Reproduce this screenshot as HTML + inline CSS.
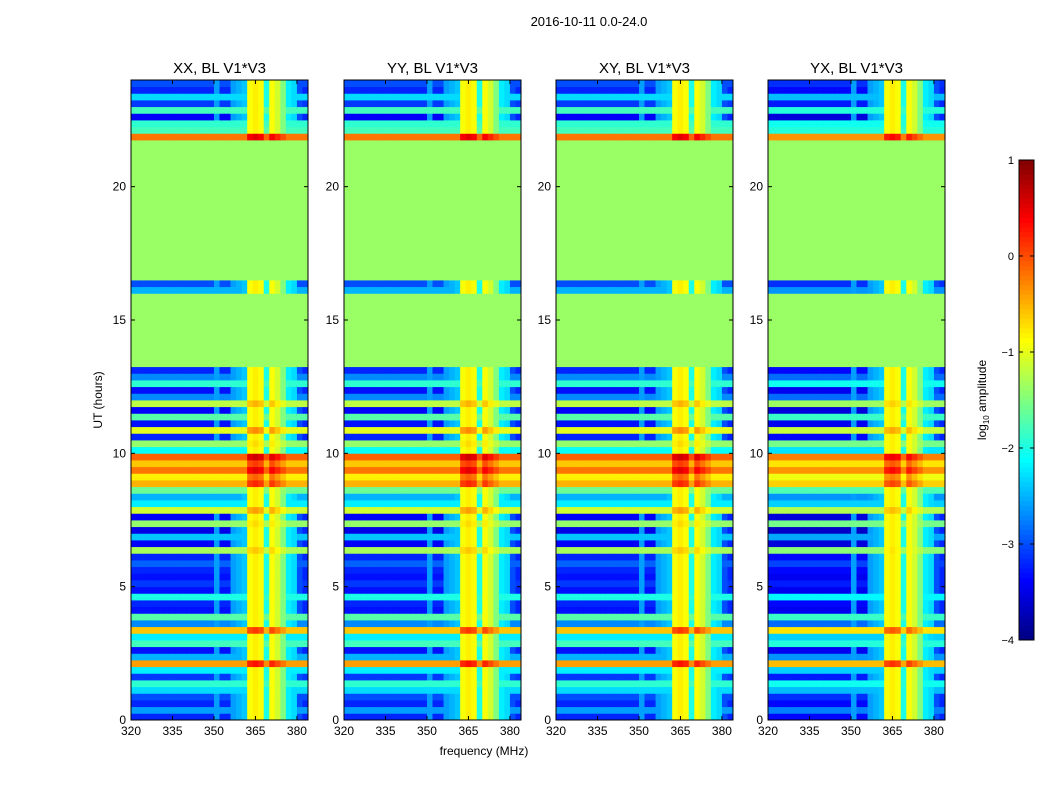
<!DOCTYPE html>
<html><head><meta charset="utf-8">
<style>
body{margin:0;background:#fff;font-family:"Liberation Sans",sans-serif;}
svg text{font-family:"Liberation Sans",sans-serif;}
</style></head>
<body>
<svg id="fig" width="1050" height="800" xmlns="http://www.w3.org/2000/svg">
<rect width="1050" height="800" fill="#fff"/>
<text x="589" y="26" font-size="13" text-anchor="middle">2016-10-11 0.0-24.0</text>
<text x="484" y="755" font-size="12" text-anchor="middle">frequency (MHz)</text>
<text x="102" y="400" font-size="12" text-anchor="middle" transform="rotate(-90 102 400)">UT (hours)</text>
<g id="panels"></g>
<g id="cbar"></g>
</svg>
<script>
// time rows: 0.25 h bins, 0..24 h (96 rows), log10 amplitude levels
const rowLevels=[-3.2,-2.6,-3.2,-3.0,-2.3,
-1.9,-3.1,-2.2,-0.4,-2.5,-3.3,-1.8,-2.2,-0.6,-2.7,-1.7,-3.3,-3.2,
-2.0,-3.3,-3.1,-3.3,-3.2,-2.9,-3.2,
-1.3,-3.4,-2.4,-3.5,-1.4,-3.4,-1.1,-2.2,-2.5,
-1.6,-0.5,-0.8,-0.2,-0.6,-0.1,-2.1,
-1.4,-3.2,-1.0,-3.3,-1.7,-3.4,-1.2,-2.7,-3.3,-1.9,-2.7,-3.2,
-1.37,-1.37,-1.37,-1.37,-1.37,-1.37,-1.37,-1.37,-1.37,-1.37,-1.37,
-2.5,-3.0,
-1.37,-1.37,-1.37,-1.37,-1.37,-1.37,-1.37,-1.37,-1.37,-1.37,-1.37,-1.37,-1.37,-1.37,-1.37,-1.37,-1.37,-1.37,-1.37,-1.37,-1.37,
-0.2,-1.8,-1.9,
-3.4,-1.8,-3.1,-2.3,-3.2,-3.0];
const flagged=[0,0,0,0,0, 0,0,0,0,0,0,0,0,0,0,0,0,0, 0,0,0,0,0,0,0, 0,0,0,0,0,0,0,0,0, 0,0,0,0,0,0,0, 0,0,0,0,0,0,0,0,0,0,0,0,
1,1,1,1,1,1,1,1,1,1,1, 0,0, 1,1,1,1,1,1,1,1,1,1,1,1,1,1,1,1,1,1,1,1,1, 0,0,0, 0,0,0,0,0,0];
// frequency bins: 2 MHz from 320 to 384 — RFI band floor and gain per channel
const colFloor=[-4,-4,-4,-4,-4,-4,-4,-4,-4,-4,-4,-4,-4,-4,-4,-2.6,-4,-4,-2.6,-2.5,-2.4,-0.9,-0.8,-0.9,-2.0,-0.9,-1.1,-1.5,-2.2,-2.3,-3.0,-3.2];
const bandGain=[0,0,0,0,0,0,0,0,0,0,0,0,0,0,0,0,0,0,0,0,0,0.6,0.7,0.6,0.1,0.6,0.4,0.2,0,0,0,0];
const panelTitles=["XX, BL V1*V3","YY, BL V1*V3","XY, BL V1*V3","YX, BL V1*V3"];
const panelOffset=[0,0,0,-0.15];
const xTicks=[320,335,350,365,380];
const yTicks=[0,5,10,15,20];
const cbTicks=[1,0,-1,-2,-3,-4];

const NS="http://www.w3.org/2000/svg";
const panelX=[131,344,556,768], PW=177, PT=80, PB=720;
function sx(p,f){return panelX[p]+(f-320)/(384-320)*PW;}
function sy(h){return PB-(h/24)*(PB-PT);}
function jet(v){
  let t=Math.max(0,Math.min(1,(v+4)/5));
  const c=x=>Math.round(255*Math.max(0,Math.min(1,x)));
  return `rgb(${c(1.5-Math.abs(4*t-3))},${c(1.5-Math.abs(4*t-2))},${c(1.5-Math.abs(4*t-1))})`;
}
function mk(tag,attrs,parent){const e=document.createElementNS(NS,tag);for(const k in attrs)e.setAttribute(k,attrs[k]);parent.appendChild(e);return e;}
const panels=document.getElementById('panels');
for(let p=0;p<4;p++){
  const g=mk('g',{},panels);
  
  
  for(let r=0;r<rowLevels.length;r++){
    const y0=sy((r+1)*0.25), y1=sy(r*0.25);
    for(let c=0;c<colFloor.length;c++){
      const v=flagged[r]?rowLevels[r]:Math.max(rowLevels[r]+panelOffset[p]+bandGain[c],colFloor[c]);
      const x0=sx(p,320+c*2), x1=sx(p,322+c*2);
      const e=mk('rect',{x:x0.toFixed(2),y:y0.toFixed(2),width:(x1-x0+0.4).toFixed(2),height:(y1-y0+0.4).toFixed(2),fill:jet(v)},g);
      
      
    }
  }
  const fr=mk('rect',{x:panelX[p],y:PT,width:PW,height:PB-PT,fill:'none',stroke:'#000','stroke-width':1},g);
  
  
  const t=mk('text',{x:panelX[p]+PW/2,y:73,'font-size':15,'text-anchor':'middle'},g);
  t.textContent=panelTitles[p];
  
  
  xTicks.forEach(f=>{
    const x=sx(p,f);
    mk('line',{x1:x,x2:x,y1:PB,y2:PB-4,stroke:'#000'},g);
    mk('line',{x1:x,x2:x,y1:PT,y2:PT+4,stroke:'#000'},g);
    const l=mk('text',{x:x,y:PB+15,'font-size':12,'text-anchor':'middle'},g);
    l.textContent=f;
    
    
  });
  yTicks.forEach(h=>{
    const y=sy(h);
    mk('line',{x1:panelX[p],x2:panelX[p]+4,y1:y,y2:y,stroke:'#000'},g);
    mk('line',{x1:panelX[p]+PW,x2:panelX[p]+PW-4,y1:y,y2:y,stroke:'#000'},g);
    const l=mk('text',{x:panelX[p]-5,y:y+4,'font-size':12,'text-anchor':'end'},g);
    l.textContent=h;
    
    
  });
}
const cb=document.getElementById('cbar');


const CX=1019,CW=15,CT=160,CB=640;
const cby=v=>CB-(v+4)/5*(CB-CT);
for(let i=0;i<100;i++){
  const v=-4+i*0.05;
  mk('rect',{x:CX,y:cby(v+0.05).toFixed(2),width:CW,height:((CB-CT)/100+0.5).toFixed(2),fill:jet(v+0.025)},cb);
}
mk('rect',{x:CX,y:CT,width:CW,height:CB-CT,fill:'none',stroke:'#000'},cb);
cbTicks.forEach(v=>{
  const y=cby(v);
  mk('line',{x1:CX,x2:CX+4,y1:y,y2:y,stroke:'#000'},cb);
  mk('line',{x1:CX+CW,x2:CX+CW-4,y1:y,y2:y,stroke:'#000'},cb);
  const l=mk('text',{x:CX-5,y:y+4,'font-size':11,'text-anchor':'end'},cb);
  l.textContent=v<0?'\u2212'+(-v):v;
  
  
});
const ct=mk('text',{x:986,y:400,'font-size':12,'text-anchor':'middle',transform:'rotate(-90 986 400)'},cb);
ct.innerHTML='log<tspan font-size="8" dy="3">10</tspan><tspan dy="-3"> amplitude</tspan>';


</script>
</body></html>
